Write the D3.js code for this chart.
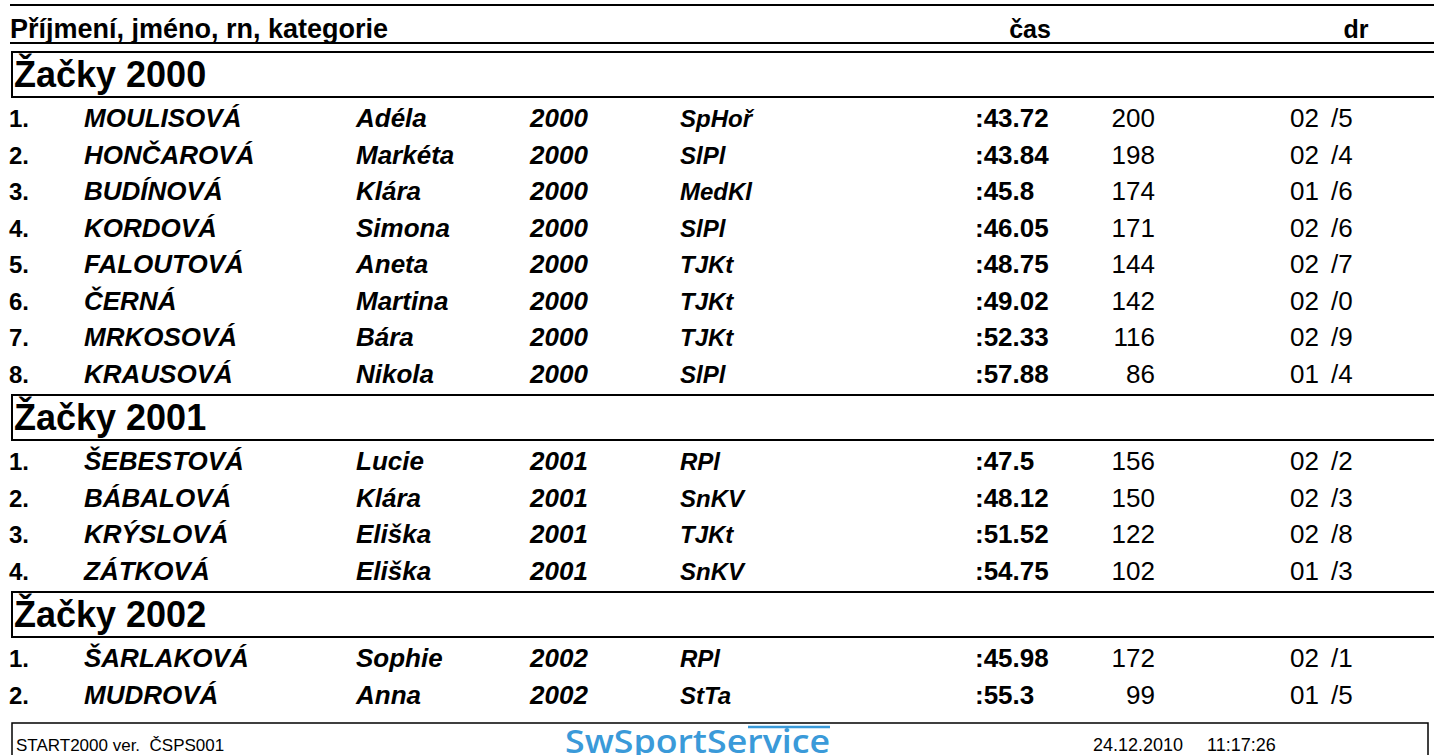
<!DOCTYPE html>
<html>
<head>
<meta charset="utf-8">
<script src="https://cdn.jsdelivr.net/npm/d3@7"></script>
<style>
  body { margin: 0; background: #fff; }
  svg { display: block; font-family: "Liberation Sans", Arial, sans-serif; }
  text { white-space: pre; }
</style>
</head>
<body>
<div id="results"></div>
<script>
// category headings
let categories = ["Žačky 2000", "Žačky 2001", "Žačky 2002"];

// one entry per competitor
let groupIdx   = [0, 0, 0, 0, 0, 0, 0, 0, 1, 1, 1, 1, 2, 2];
let places     = [1, 2, 3, 4, 5, 6, 7, 8, 1, 2, 3, 4, 1, 2];
let surnames   = ["MOULISOVÁ", "HONČAROVÁ", "BUDÍNOVÁ", "KORDOVÁ", "FALOUTOVÁ", "ČERNÁ", "MRKOSOVÁ", "KRAUSOVÁ",
                  "ŠEBESTOVÁ", "BÁBALOVÁ", "KRÝSLOVÁ", "ZÁTKOVÁ",
                  "ŠARLAKOVÁ", "MUDROVÁ"];
let firstNames = ["Adéla", "Markéta", "Klára", "Simona", "Aneta", "Martina", "Bára", "Nikola",
                  "Lucie", "Klára", "Eliška", "Eliška",
                  "Sophie", "Anna"];
let years      = [2000, 2000, 2000, 2000, 2000, 2000, 2000, 2000, 2001, 2001, 2001, 2001, 2002, 2002];
let clubs      = ["SpHoř", "SlPl", "MedKl", "SlPl", "TJKt", "TJKt", "TJKt", "SlPl",
                  "RPl", "SnKV", "TJKt", "SnKV",
                  "RPl", "StTa"];
let times      = [":43.72", ":43.84", ":45.8", ":46.05", ":48.75", ":49.02", ":52.33", ":57.88",
                  ":47.5", ":48.12", ":51.52", ":54.75",
                  ":45.98", ":55.3"];
let points     = [200, 198, 174, 171, 144, 142, 116, 86, 156, 150, 122, 102, 172, 99];
let drRun      = ["02", "02", "01", "02", "02", "02", "02", "01", "02", "02", "02", "01", "02", "01"];
let drLane     = [5, 4, 6, 6, 7, 0, 9, 4, 2, 3, 8, 3, 1, 5];

// header / footer texts
let headerCols = ["Příjmení, jméno, rn, kategorie", "čas", "dr"];
let footerTexts = ["START2000 ver.  ČSPS001", "24.12.2010", "11:17:26"];
let logoText = "SwSportService";

const width = 1434, height = 755;
const boxH = 45, rowPitch = 36.5, baseOff = 30, groupGap = 6;

let rows = surnames.map((s, i) => ({
    g: groupIdx[i], place: places[i], surname: s, first: firstNames[i], year: years[i],
    club: clubs[i], time: times[i], pts: points[i], run: drRun[i], lane: drLane[i]
}));

// work out where each category box sits, rows flow after it
let boxTops = [];
let cursorY = 52;
categories.forEach((c, gi) => {
    boxTops.push(cursorY);
    let n = rows.filter(r => r.g === gi).length;
    cursorY += boxH + n * rowPitch + groupGap;
});
rows.forEach(r => {
    let k = rows.filter(o => o.g === r.g).indexOf(r);
    r.y = boxTops[r.g] + boxH + baseOff + k * rowPitch;
});

let svg = d3.select("#results")
    .append("svg")
    .attr("width", width)
    .attr("height", height);

// top rule + header
svg.append("line").attr("x1", 10).attr("x2", width).attr("y1", 5).attr("y2", 5)
    .attr("stroke", "#000").attr("stroke-width", 2);
svg.append("line").attr("x1", 10).attr("x2", width).attr("y1", 43).attr("y2", 43)
    .attr("stroke", "#000").attr("stroke-width", 2);

let headerX = [10, 1030, 1356];
let headerAnchor = ["start", "middle", "middle"];
let headerSize = [27, 25, 25];
svg.append("g").selectAll("text")
    .data(headerCols)
    .join("text")
    .attr("x", (d, i) => headerX[i])
    .attr("y", 38)
    .attr("text-anchor", (d, i) => headerAnchor[i])
    .attr("font-size", (d, i) => headerSize[i] + "px")
    .attr("font-weight", "bold")
    .text(d => d);

// category boxes
let cat = svg.append("g").selectAll("g")
    .data(categories)
    .join("g")
    .attr("transform", (d, i) => `translate(0,${boxTops[i]})`);
cat.append("rect")
    .attr("x", 12).attr("y", 0)
    .attr("width", width + 20).attr("height", boxH)
    .attr("fill", "none").attr("stroke", "#000").attr("stroke-width", 2);
cat.append("text")
    .attr("x", 14).attr("y", 35)
    .attr("font-size", "36px").attr("font-weight", "bold")
    .text(d => d);

// competitor rows
let row = svg.append("g").selectAll("g")
    .data(rows)
    .join("g")
    .attr("transform", d => `translate(0,${d.y})`)
    .attr("font-size", "26px");

row.append("text").attr("x", 9).attr("font-weight", "bold").attr("font-size", "24px").text(d => d.place + ".");
row.append("text").attr("x", 84).attr("font-weight", "bold").attr("font-style", "italic").text(d => d.surname);
row.append("text").attr("x", 356).attr("font-weight", "bold").attr("font-style", "italic").text(d => d.first);
row.append("text").attr("x", 530).attr("font-weight", "bold").attr("font-style", "italic").text(d => d.year);
row.append("text").attr("x", 680).attr("font-weight", "bold").attr("font-style", "italic").attr("font-size", "24px").text(d => d.club);
row.append("text").attr("x", 975).attr("font-weight", "bold").text(d => d.time);
row.append("text").attr("x", 1155).attr("text-anchor", "end").text(d => d.pts);
row.append("text").attr("x", 1290).text(d => d.run);
row.append("text").attr("x", 1331).text(d => "/" + d.lane);

// footer
let footY = 723;
svg.append("rect")
    .attr("x", 12).attr("y", footY)
    .attr("width", 1416).attr("height", 50)
    .attr("fill", "none").attr("stroke", "#000").attr("stroke-width", 1.5);

let footX = [16, 1093, 1207];
let footSize = [17, 18, 18];
svg.append("g").selectAll("text")
    .data(footerTexts)
    .join("text")
    .attr("x", (d, i) => footX[i])
    .attr("y", 751)
    .attr("font-size", (d, i) => footSize[i] + "px")
    .text(d => d);

svg.append("line")
    .attr("x1", 748).attr("x2", 830).attr("y1", 727).attr("y2", 727)
    .attr("stroke", "#3a9ad9").attr("stroke-width", 2.5);
svg.append("text")
    .attr("x", 565).attr("y", 753)
    .attr("font-family", "'Open Sans', sans-serif")
    .attr("font-weight", 600)
    .attr("font-size", "33px")
    .attr("fill", "#3a9ad9")
    .attr("textLength", 265)
    .attr("lengthAdjust", "spacingAndGlyphs")
    .text(logoText);
</script>
</body>
</html>
